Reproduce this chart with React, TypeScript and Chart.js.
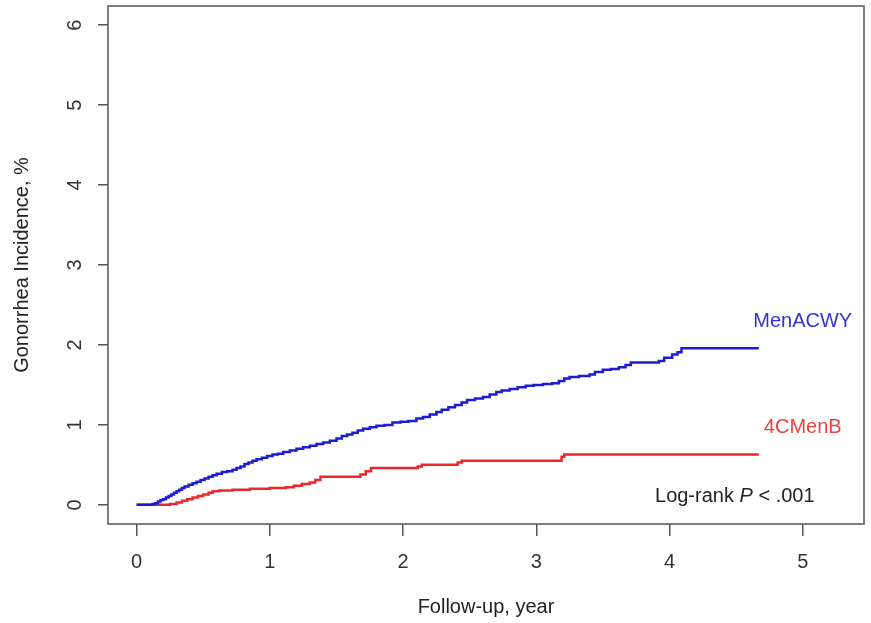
import React, { useEffect, useRef } from "react";
import { Chart, registerables } from "chart.js";

Chart.register(...registerables);

// Cumulative incidence step functions
const menacwyTime = [0, 0.12, 0.14, 0.16, 0.18, 0.2, 0.22, 0.24, 0.26, 0.28, 0.3, 0.32, 0.34, 0.36, 0.39, 0.42, 0.45, 0.48, 0.51, 0.54, 0.57, 0.6, 0.64, 0.68, 0.72, 0.75, 0.78, 0.81, 0.84, 0.87, 0.9, 0.94, 0.98, 1.02, 1.06, 1.1, 1.15, 1.2, 1.25, 1.3, 1.35, 1.4, 1.45, 1.5, 1.54, 1.58, 1.62, 1.66, 1.7, 1.75, 1.8, 1.86, 1.92, 1.98, 2.04, 2.1, 2.15, 2.2, 2.25, 2.29, 2.34, 2.39, 2.44, 2.48, 2.54, 2.6, 2.65, 2.7, 2.74, 2.8, 2.86, 2.92, 2.98, 3.05, 3.12, 3.17, 3.21, 3.25, 3.32, 3.4, 3.44, 3.5, 3.56, 3.62, 3.67, 3.71, 3.92, 3.96, 4.02, 4.06, 4.09, 4.67];
const menacwyPct = [0, 0.01, 0.02, 0.04, 0.06, 0.07, 0.09, 0.11, 0.13, 0.15, 0.17, 0.19, 0.21, 0.23, 0.25, 0.27, 0.29, 0.31, 0.33, 0.35, 0.37, 0.39, 0.41, 0.42, 0.44, 0.46, 0.48, 0.51, 0.53, 0.55, 0.57, 0.59, 0.61, 0.63, 0.64, 0.66, 0.68, 0.7, 0.72, 0.74, 0.76, 0.78, 0.8, 0.83, 0.86, 0.88, 0.9, 0.93, 0.95, 0.97, 0.99, 1.0, 1.03, 1.04, 1.05, 1.08, 1.1, 1.13, 1.16, 1.19, 1.22, 1.25, 1.28, 1.31, 1.33, 1.35, 1.38, 1.41, 1.43, 1.45, 1.47, 1.49, 1.5, 1.51, 1.52, 1.55, 1.58, 1.6, 1.61, 1.63, 1.66, 1.69, 1.7, 1.72, 1.75, 1.78, 1.8, 1.84, 1.88, 1.91, 1.96, 1.96];

const cmenbTime = [0, 0.25, 0.3, 0.34, 0.38, 0.42, 0.46, 0.5, 0.54, 0.57, 0.62, 0.72, 0.85, 1.0, 1.12, 1.18, 1.24, 1.3, 1.34, 1.38, 1.68, 1.72, 1.76, 2.11, 2.14, 2.41, 2.44, 3.19, 3.21, 4.67];
const cmenbPct = [0, 0.01, 0.03, 0.05, 0.07, 0.09, 0.11, 0.13, 0.15, 0.17, 0.18, 0.19, 0.2, 0.21, 0.22, 0.24, 0.26, 0.28, 0.31, 0.35, 0.38, 0.42, 0.46, 0.48, 0.5, 0.53, 0.55, 0.6, 0.63, 0.63];

const xTicks = [0, 1, 2, 3, 4, 5];
const yTicks = [0, 1, 2, 3, 4, 5, 6];

const xTitle = "Follow-up, year";
const yTitle = "Gonorrhea Incidence, %";
const seriesNames = ["MenACWY", "4CMenB"];
const labelPos = [
  [5, 2.29],
  [5, 0.97],
];
const pTextPos = [4.49, 0.1];

const FONT = "'Liberation Sans', Arial, Helvetica, sans-serif";
const BLUE = "#1c1cd0";
const RED = "#e8282a";

const toXY = (xs: number[], ys: number[]) => xs.map((x, i) => ({ x, y: ys[i] }));

export default function App() {
  const ref = useRef<HTMLCanvasElement | null>(null);

  useEffect(() => {
    document.body.style.margin = "0";
    const canvas = ref.current;
    if (!canvas) return;

    const overlay = {
      id: "overlay",
      afterDatasetsDraw(chart: any) {
        const { ctx, chartArea, scales } = chart;
        const xs = scales.x;
        const ys = scales.y;
        ctx.save();
        ctx.strokeStyle = "#555";
        ctx.lineWidth = 1.5;
        ctx.strokeRect(chartArea.left, chartArea.top, chartArea.right - chartArea.left, chartArea.bottom - chartArea.top);
        ctx.font = `20px ${FONT}`;
        ctx.textAlign = "center";
        ctx.textBaseline = "middle";
        ctx.fillStyle = "#3434d4";
        ctx.fillText(seriesNames[0], xs.getPixelForValue(labelPos[0][0]), ys.getPixelForValue(labelPos[0][1]));
        ctx.fillStyle = "#e84444";
        ctx.fillText(seriesNames[1], xs.getPixelForValue(labelPos[1][0]), ys.getPixelForValue(labelPos[1][1]));
        const parts = [
          { t: "Log-rank ", f: `20px ${FONT}` },
          { t: "P", f: `italic 20px ${FONT}` },
          { t: " < .001", f: `20px ${FONT}` },
        ];
        let total = 0;
        const widths = parts.map((p) => {
          ctx.font = p.f;
          const w = ctx.measureText(p.t).width;
          total += w;
          return w;
        });
        let cx = xs.getPixelForValue(pTextPos[0]) - total / 2;
        const cy = ys.getPixelForValue(pTextPos[1]);
        ctx.textAlign = "left";
        ctx.fillStyle = "#222";
        parts.forEach((p, i) => {
          ctx.font = p.f;
          ctx.fillText(p.t, cx, cy);
          cx += widths[i];
        });
        ctx.restore();
      },
    };

    const chart = new Chart(canvas, {
      type: "line",
      data: {
        datasets: [
          {
            label: seriesNames[0],
            data: toXY(menacwyTime, menacwyPct),
            borderColor: BLUE,
            borderWidth: 2.5,
            pointRadius: 0,
            stepped: "before",
            fill: false,
          },
          {
            label: seriesNames[1],
            data: toXY(cmenbTime, cmenbPct),
            borderColor: RED,
            borderWidth: 2.5,
            pointRadius: 0,
            stepped: "before",
            fill: false,
          },
        ],
      },
      options: {
        animation: false,
        responsive: false,
        events: [],
        layout: { padding: { left: 0, top: 6, right: 7, bottom: 0 } },
        plugins: {
          legend: { display: false },
          tooltip: { enabled: false },
          title: { display: false },
        },
        scales: {
          x: {
            type: "linear",
            min: -0.215,
            max: 5.46,
            afterBuildTicks: (axis: any) => {
              axis.ticks = xTicks.map((v) => ({ value: v }));
            },
            afterFit: (axis: any) => {
              axis.height = 99;
              axis.paddingLeft = 0;
              axis.paddingRight = 0;
            },
            grid: { drawOnChartArea: false, drawTicks: true, tickLength: 12, color: "#555", lineWidth: 1.5 },
            border: { display: false },
            ticks: {
              color: "#333",
              font: { family: FONT, size: 20 },
              padding: 14,
              callback: (v: any) => String(v),
            },
            title: {
              display: true,
              text: xTitle,
              color: "#222",
              font: { family: FONT, size: 20 },
              padding: { top: 0, bottom: 4 },
            },
          },
          y: {
            type: "linear",
            min: -0.24,
            max: 6.24,
            afterBuildTicks: (axis: any) => {
              axis.ticks = yTicks.map((v) => ({ value: v }));
            },
            afterFit: (axis: any) => {
              axis.width = 108;
              axis.paddingTop = 0;
              axis.paddingBottom = 0;
            },
            grid: { drawOnChartArea: false, drawTicks: true, tickLength: 10, color: "#555", lineWidth: 1.5 },
            border: { display: false },
            ticks: {
              color: "#333",
              font: { family: FONT, size: 20 },
              padding: 17,
              minRotation: 90,
              maxRotation: 90,
              crossAlign: "center",
              callback: (v: any) => String(v),
            },
            title: {
              display: true,
              text: yTitle,
              color: "#222",
              font: { family: FONT, size: 20 },
              padding: { top: 10, bottom: 0 },
            },
          },
        },
      },
      plugins: [overlay],
    } as any);

    return () => chart.destroy();
  }, []);

  return (
    <canvas
      ref={ref}
      width={871}
      height={623}
      style={{ position: "absolute", left: 0, top: 0, width: 871, height: 623, display: "block" }}
    />
  );
}
